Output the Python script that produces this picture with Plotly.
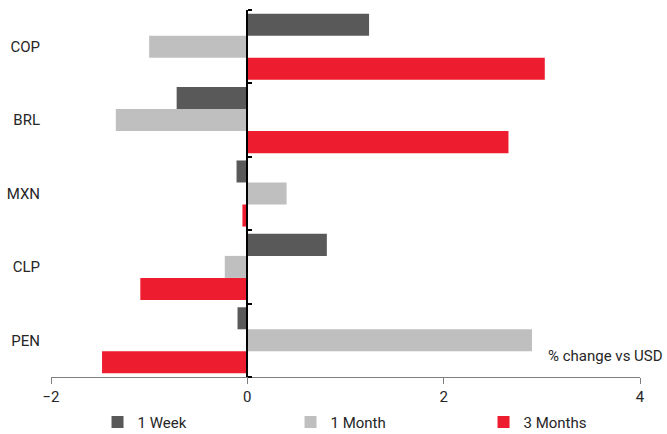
import plotly.graph_objects as go

categories = ["COP", "BRL", "MXN", "CLP", "PEN"]
week1 = [1.24, -0.72, -0.11, 0.81, -0.10]
month1 = [-1.00, -1.34, 0.40, -0.23, 2.90]
months3 = [3.03, 2.66, -0.05, -1.09, -1.48]
series_names = ["1 Week", "1 Month", "3 Months"]
colors = ["#595959", "#BFBFBF", "#ED1C2E"]
x_ticks = [-2, 0, 2, 4]

FONT = "Roboto, sans-serif"

fig = go.Figure()
for name, vals, c in zip(series_names, [week1, month1, months3], colors):
    fig.add_trace(go.Bar(y=categories, x=vals, orientation="h", name=name,
                         marker=dict(color=c, line=dict(width=0))))

# invisible trace to activate the secondary axis used as the zero line with ticks
fig.add_trace(go.Scatter(x=[0], y=[0], yaxis="y2", mode="markers",
                         marker=dict(opacity=0), showlegend=False, hoverinfo="skip"))

n = len(categories)
fig.update_layout(
    width=667, height=434,
    margin=dict(l=51, r=27, t=10, b=57, autoexpand=False),
    paper_bgcolor="white", plot_bgcolor="white",
    barmode="group", bargap=0.1, bargroupgap=0,
    font=dict(family=FONT, size=15, color="#262626"),
    xaxis=dict(range=[-2, 4], tickvals=x_ticks, showgrid=False, zeroline=False,
               showline=True, linecolor="#7f7f7f", linewidth=1,
               ticks="outside", ticklen=6, tickcolor="#7f7f7f",
               tickfont=dict(size=15, color="#262626")),
    yaxis=dict(autorange="reversed", showgrid=False, zeroline=False, showline=False,
               ticks="", ticklabelstandoff=10, tickfont=dict(size=15, color="#262626")),
    yaxis2=dict(overlaying="y", anchor="free", position=1/3, side="right",
                range=[n - 0.5, -0.5], tickvals=[i - 0.5 for i in range(n + 1)],
                showticklabels=False, showgrid=False, zeroline=False,
                showline=True, linecolor="black", linewidth=1.5,
                ticks="outside", ticklen=4, tickcolor="black", tickwidth=1.5),
    legend=dict(orientation="h", x=0.079, xanchor="left", y=-0.078, yanchor="top",
                entrywidth=148, entrywidthmode="pixels", font=dict(size=15),
                itemwidth=30, traceorder="normal", borderwidth=0,
                bgcolor="rgba(0,0,0,0)"),
    showlegend=True,
    annotations=[dict(text="% change vs USD", xref="paper", yref="paper",
                      x=1.042, y=0.057, xanchor="right", yanchor="middle",
                      showarrow=False, font=dict(size=15, color="#262626"))],
)

fig.write_html("out.html")
